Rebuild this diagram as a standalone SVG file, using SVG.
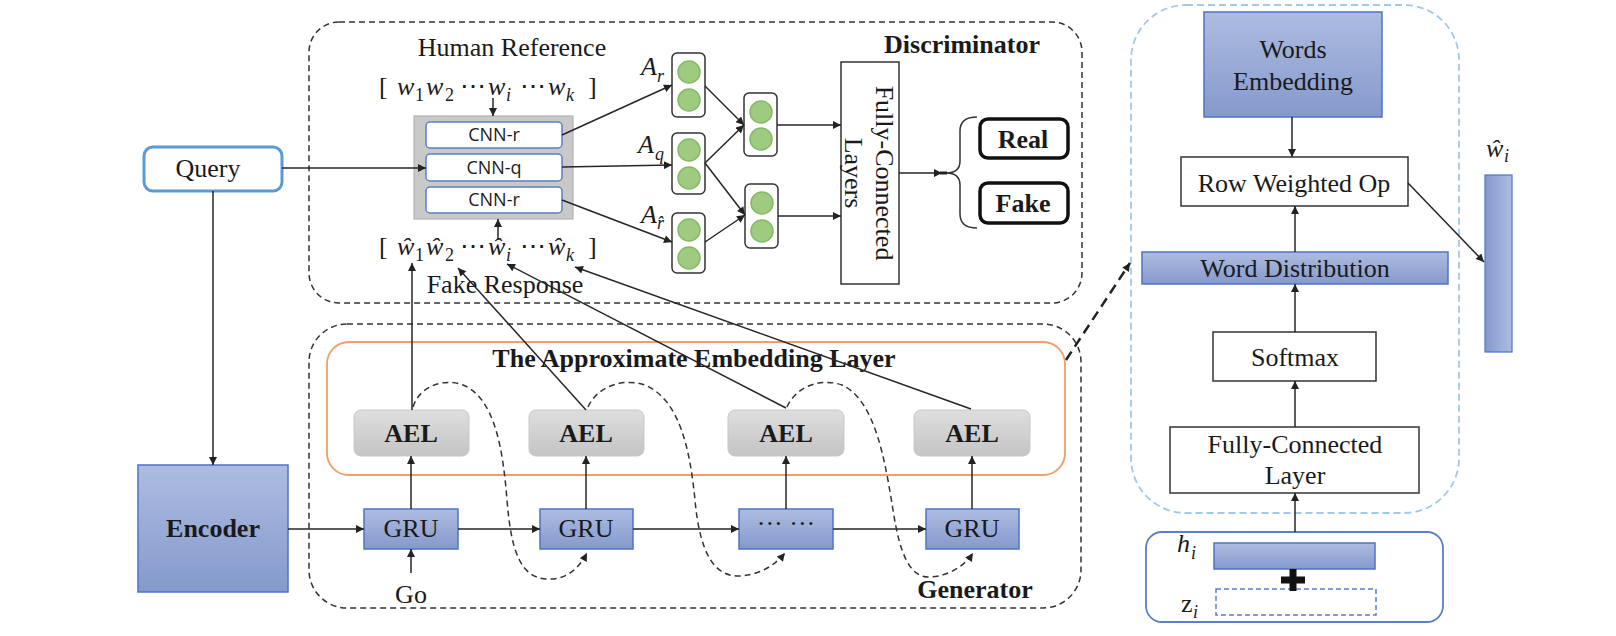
<svg xmlns="http://www.w3.org/2000/svg" width="1616" height="636" viewBox="0 0 1616 636">
<defs>
<linearGradient id="blue" x1="0" y1="0" x2="0" y2="1"><stop offset="0" stop-color="#adbce0"/><stop offset="1" stop-color="#8599cc"/></linearGradient>
<linearGradient id="blueH" x1="0" y1="0" x2="1" y2="0"><stop offset="0" stop-color="#8599cc"/><stop offset="1" stop-color="#adbce0"/></linearGradient>
<linearGradient id="gray" x1="0" y1="0" x2="0" y2="1"><stop offset="0" stop-color="#dedede"/><stop offset="1" stop-color="#c4c4c4"/></linearGradient>
<marker id="ah" viewBox="0 0 10 10" refX="10" refY="5" markerWidth="9" markerHeight="8" markerUnits="userSpaceOnUse" orient="auto"><path d="M0,0 L10,5 L0,10 z" fill="#222"/></marker>
<style>
.t{font-family:"Liberation Serif","Times New Roman",serif;font-size:26px;fill:#1a1a1a}
.b{font-weight:bold}
.m{font-family:"Liberation Serif","DejaVu Serif",serif;font-style:italic;font-size:26px;fill:#1a1a1a}
.s{font-size:18px}
.mid{text-anchor:middle}
.cnn{font-family:"Open Sans","Liberation Sans",sans-serif;font-size:18px;fill:#1a1a1a;text-anchor:middle}
.ln{fill:none;stroke:#262626;stroke-width:1.5}
.arr{fill:none;stroke:#262626;stroke-width:1.5;marker-end:url(#ah)}
.dash{fill:none;stroke:#333;stroke-width:1.5;stroke-dasharray:6 4}
.bbox{fill:url(#blue);stroke:#4f74c4;stroke-width:1.5}
.wbox{fill:#fff;stroke:#333;stroke-width:1.5}
.ael{fill:url(#gray);stroke:#c8c8c8;stroke-width:1}
.gbox{fill:#fff;stroke:#333;stroke-width:1.5}
.c{fill:#9fcb80;stroke:#86b966;stroke-width:1.5}
.cnnbox{fill:#fff;stroke:#5b7fc7;stroke-width:1.5}
.rf{fill:#fff;stroke:#111;stroke-width:3.5}
</style>
</defs>
<rect width="1616" height="636" fill="#fff"/>

<!-- containers -->
<g id="discriminator">
<rect x="309" y="22" width="773" height="281" rx="30" class="dash"/>
<text x="962" y="53" class="t b mid">Discriminator</text>
</g>
<g id="generator">
<rect x="309" y="324" width="772" height="284" rx="38" class="dash"/>
<text x="975" y="598" class="t b mid">Generator</text>
</g>
<g id="ael-layer">
<rect x="327" y="342" width="738" height="133" rx="22" fill="none" stroke="#f29e68" stroke-width="1.8"/>
<text x="694" y="367" class="t b mid">The Approximate Embedding Layer</text>
</g>
<g id="detail-panel">
<rect x="1131" y="5" width="328" height="508" rx="55" fill="none" stroke="#a4c8e8" stroke-width="1.8" stroke-dasharray="7 4"/>
</g>

<!-- Discriminator internals -->
<g id="human-reference">
<text x="512" y="56" class="t mid" fill="#222">Human Reference</text>
<text class="m" y="95"><tspan x="379" font-style="normal">[</tspan><tspan x="397">w</tspan><tspan x="415" dy="6" class="s" font-style="normal">1</tspan><tspan x="426" dy="-6">w</tspan><tspan x="445" dy="6" class="s" font-style="normal">2</tspan><tspan x="460" dy="-6" font-style="normal">⋯</tspan><tspan x="488">w</tspan><tspan x="506" dy="6" class="s">i</tspan><tspan x="520" dy="-6" font-style="normal">⋯</tspan><tspan x="548">w</tspan><tspan x="566" dy="6" class="s">k</tspan><tspan x="588" dy="-6" font-style="normal">]</tspan></text>
</g>
<g id="fake-response">
<text x="505" y="293" class="t mid" fill="#222">Fake Response</text>
<text class="m" y="255"><tspan x="379" font-style="normal">[</tspan><tspan x="397">ŵ</tspan><tspan x="415" dy="6" class="s" font-style="normal">1</tspan><tspan x="426" dy="-6">ŵ</tspan><tspan x="445" dy="6" class="s" font-style="normal">2</tspan><tspan x="460" dy="-6" font-style="normal">⋯</tspan><tspan x="488">ŵ</tspan><tspan x="506" dy="6" class="s">i</tspan><tspan x="520" dy="-6" font-style="normal">⋯</tspan><tspan x="548">ŵ</tspan><tspan x="566" dy="6" class="s">k</tspan><tspan x="588" dy="-6" font-style="normal">]</tspan></text>
</g>
<g id="cnn-block">
<rect x="414" y="116" width="159" height="103" fill="#c9c9c9" stroke="#b3b3b3" stroke-width="1.2"/>
<rect x="426" y="122" width="136" height="26" rx="4" class="cnnbox"/>
<text x="494" y="141" class="cnn">CNN-r</text>
<rect x="426" y="154" width="136" height="27" rx="4" class="cnnbox"/>
<text x="494" y="174" class="cnn">CNN-q</text>
<rect x="426" y="187" width="136" height="26" rx="4" class="cnnbox"/>
<text x="494" y="206" class="cnn">CNN-r</text>
</g>
<g id="a-r">
<rect x="672" y="53" width="33" height="64" rx="5" class="gbox"/>
<circle cx="689" cy="72" r="11" class="c"/><circle cx="689" cy="100" r="11" class="c"/>
<text x="641" y="75" class="m">A</text><text x="657" y="82" class="m s">r</text>
</g>
<g id="a-q">
<rect x="672" y="133" width="33" height="61" rx="5" class="gbox"/>
<circle cx="689" cy="150" r="11" class="c"/><circle cx="689" cy="178" r="11" class="c"/>
<text x="638" y="153" class="m">A</text><text x="655" y="160" class="m s">q</text>
</g>
<g id="a-rhat">
<rect x="672" y="213" width="33" height="60" rx="5" class="gbox"/>
<circle cx="689" cy="230" r="11" class="c"/><circle cx="689" cy="258" r="11" class="c"/>
<text x="641" y="223" class="m">A</text><text x="657" y="229" class="m s">r̂</text>
</g>
<g id="h-upper">
<rect x="744" y="93" width="33" height="63" rx="5" class="gbox"/>
<circle cx="761" cy="112" r="11" class="c"/><circle cx="761" cy="139" r="11" class="c"/>
</g>
<g id="h-lower">
<rect x="745" y="184" width="33" height="64" rx="5" class="gbox"/>
<circle cx="762" cy="203" r="11" class="c"/><circle cx="762" cy="231" r="11" class="c"/>
</g>
<g id="fc-layers">
<rect x="841" y="62" width="58" height="222" fill="#fff" stroke="#333" stroke-width="1.5"/>
<g transform="translate(870,173) rotate(90)">
<text x="0" y="-6" class="t mid">Fully-Connected</text>
<text x="0" y="25" class="t mid">Layers</text>
</g>
</g>
<g id="brace">
<path d="M977,117 Q960,117 960,131 L960,161 Q960,173 946,173 Q960,173 960,185 L960,214 Q960,228 977,228" fill="none" stroke="#333" stroke-width="1.5"/>
</g>
<g id="real">
<rect x="980" y="119" width="88" height="39" rx="8" class="rf"/>
<text x="1023" y="148" class="t b mid">Real</text>
</g>
<g id="fake">
<rect x="980" y="183" width="88" height="40" rx="8" class="rf"/>
<text x="1023" y="212" class="t b mid">Fake</text>
</g>

<!-- left -->
<g id="query">
<rect x="144" y="147" width="138" height="44" rx="9" fill="#fff" stroke="#5b9bd5" stroke-width="3"/>
<text x="208" y="177" class="t mid">Query</text>
</g>
<g id="encoder">
<rect x="138" y="465" width="150" height="127" class="bbox"/>
<text x="213" y="537" class="t b mid">Encoder</text>
</g>

<!-- generator internals -->
<g id="ael1"><rect x="354" y="410" width="115" height="46" rx="7" class="ael"/><text x="411" y="442" class="t b mid">AEL</text></g>
<g id="ael2"><rect x="529" y="410" width="115" height="46" rx="7" class="ael"/><text x="586" y="442" class="t b mid">AEL</text></g>
<g id="ael3"><rect x="728" y="410" width="116" height="46" rx="7" class="ael"/><text x="786" y="442" class="t b mid">AEL</text></g>
<g id="ael4"><rect x="914" y="410" width="116" height="46" rx="7" class="ael"/><text x="972" y="442" class="t b mid">AEL</text></g>
<g id="gru1"><rect x="364" y="509" width="94" height="40" class="bbox"/><text x="411" y="537" class="t mid">GRU</text></g>
<g id="gru2"><rect x="540" y="509" width="93" height="40" class="bbox"/><text x="586" y="537" class="t mid">GRU</text></g>
<g id="gru3"><rect x="739" y="509" width="94" height="40" class="bbox"/><text x="786" y="532" class="t mid">··· ···</text></g>
<g id="gru4"><rect x="926" y="509" width="93" height="40" class="bbox"/><text x="972" y="537" class="t mid">GRU</text></g>
<g id="go"><text x="411" y="603" class="t mid">Go</text></g>

<!-- right panel -->
<g id="words-embedding">
<rect x="1204" y="12" width="178" height="105" class="bbox"/>
<text x="1293" y="58" class="t mid">Words</text>
<text x="1293" y="90" class="t mid">Embedding</text>
</g>
<g id="row-weighted-op">
<rect x="1181" y="157" width="227" height="49" class="wbox"/>
<text x="1294" y="192" class="t mid">Row Weighted Op</text>
</g>
<g id="word-distribution">
<rect x="1142" y="252" width="306" height="32" class="bbox"/>
<text x="1295" y="277" class="t mid">Word Distribution</text>
</g>
<g id="softmax">
<rect x="1213" y="332" width="163" height="49" class="wbox"/>
<text x="1295" y="366" class="t mid">Softmax</text>
</g>
<g id="fc-layer">
<rect x="1170" y="427" width="249" height="66" class="wbox"/>
<text x="1295" y="453" class="t mid">Fully-Connected</text>
<text x="1295" y="484" class="t mid">Layer</text>
</g>
<g id="input-state">
<rect x="1146" y="532" width="297" height="90" rx="16" fill="#fff" stroke="#5a7fc8" stroke-width="1.8"/>
<rect x="1214" y="543" width="161" height="26" class="bbox"/>
<rect x="1216" y="589" width="160" height="26" fill="none" stroke="#5a7fc8" stroke-width="1.5" stroke-dasharray="5 3"/>
<path d="M1281,580 H1305 M1293,569 V591" stroke="#111" stroke-width="7"/>
<text x="1177" y="552" class="m">h</text><text x="1191" y="559" class="m s">i</text>
<text x="1181" y="612" class="t">z</text><text x="1193" y="618" class="m s">i</text>
</g>
<g id="w-hat-i">
<rect x="1485" y="175" width="27" height="177" fill="url(#blueH)" stroke="#4f74c4" stroke-width="1.2"/>
<text x="1486" y="157" class="m">ŵ</text><text x="1504" y="162" class="m s">i</text>
</g>

<!-- connectors -->
<g id="connectors">
<path d="M493,98 V116" class="arr"/>
<path d="M498,240 V219" class="arr"/>
<path d="M282,168 H426" class="arr"/>
<path d="M562,135 L672,85" class="arr"/>
<path d="M562,167 L672,165" class="arr"/>
<path d="M562,200 L672,242" class="arr"/>
<path d="M705,86 L744,125" class="arr"/>
<path d="M705,163 L744,125" class="arr"/>
<path d="M705,163 L745,215" class="arr"/>
<path d="M705,242 L745,215" class="arr"/>
<path d="M777,125 H841" class="arr"/>
<path d="M778,216 H841" class="arr"/>
<path d="M899,173 H942" class="arr"/>
<path d="M940,173 H947" stroke="#222" stroke-width="3"/>

<path d="M213,191 V465" class="arr"/>
<path d="M288,529 H364" class="arr"/>
<path d="M458,529 H540" class="arr"/>
<path d="M633,529 H739" class="arr"/>
<path d="M833,529 H926" class="arr"/>
<path d="M411,573 V549" class="arr" stroke-width="2.2"/>

<path d="M411,509 V456" class="arr"/>
<path d="M586,509 V456" class="arr"/>
<path d="M786,509 V456" class="arr"/>
<path d="M972,509 V456" class="arr"/>

<path d="M412,410 V263" class="arr"/>
<path d="M586,410 L458,268" class="arr"/>
<path d="M786,408 L507,264" class="arr"/>
<path d="M971,409 L575,267" class="arr"/>

<path d="M413,407 C420,385 445,378 463,385 C495,398 503,450 507,500 C511,550 520,578 547,579 C565,580 578,570 587,553" class="dash" marker-end="url(#ah)"/>
<path d="M588,407 C598,385 625,378 645,385 C680,400 690,450 695,500 C700,555 715,577 740,576 C760,575 775,565 785,553" class="dash" marker-end="url(#ah)"/>
<path d="M787,407 C797,385 822,378 842,385 C875,400 885,460 893,510 C900,555 910,578 930,577 C950,576 965,565 973,553" class="dash" marker-end="url(#ah)"/>

<path d="M1066,360 L1130,263" fill="none" stroke="#222" stroke-width="2.5" stroke-dasharray="10 6" marker-end="url(#ah)"/>

<path d="M1292,117 V157" class="arr"/>
<path d="M1295,252 V206" class="arr"/>
<path d="M1295,332 V284" class="arr"/>
<path d="M1295,427 V381" class="arr"/>
<path d="M1295,532 V493" class="arr"/>
<path d="M1408,183 L1484,262" class="arr"/>
</g>
</svg>
